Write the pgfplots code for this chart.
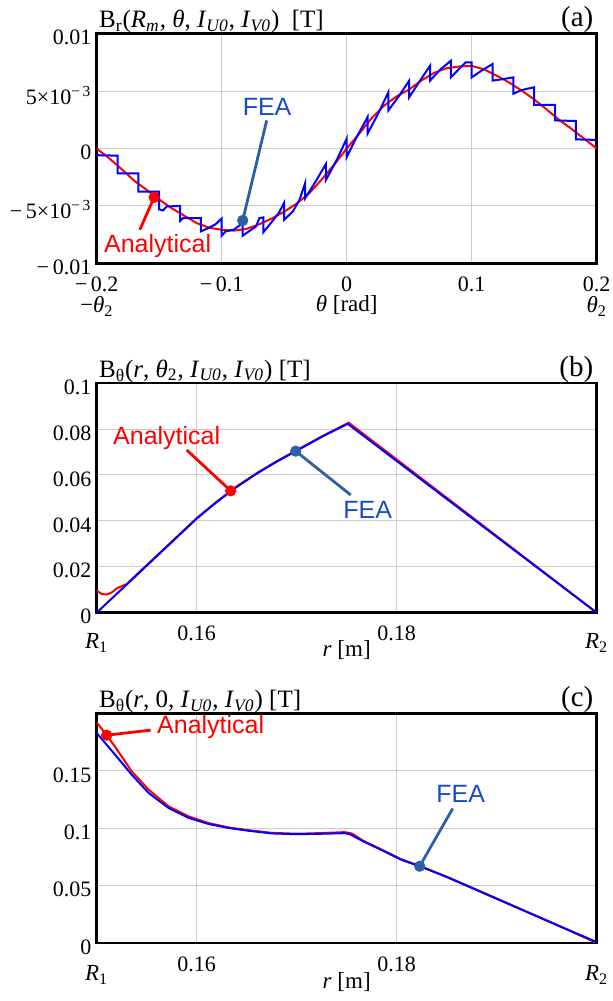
\documentclass[border=0pt]{standalone}
\usepackage{fontspec}
\setmainfont{Liberation Serif}
\newfontfamily\arial{Liberation Sans}
\usepackage{pgfplots}
\pgfplotsset{compat=1.18}

\definecolor{feablue}{RGB}{0,0,255}
\definecolor{anared}{RGB}{255,0,0}
\definecolor{fealabel}{RGB}{25,75,200}
\definecolor{fealead}{RGB}{45,95,165}

\pgfplotsset{
  mcad/.style={
    scale only axis, width=250pt, height=114.75pt, anchor=south west,
    clip mode=individual,
    grid=major, grid style={gray!40, line width=0.5pt},
    axis line style={line width=1.3pt},
    major tick length=0pt,
    tick label style={font=\fontsize{11}{13}\selectfont},
    xticklabel style={anchor=center, yshift=-10.5pt},
    yticklabel style={anchor=east, inner sep=0pt, xshift=-2.5pt, yshift=-2pt},
  },
  ana/.style={anared, line width=1pt},
  fea/.style={feablue, line width=1pt},
}
\newcommand\ttl[1]{\node[anchor=base west, inner sep=0pt, font=\fontsize{12.5}{14}\selectfont, xshift=1pt, yshift=3pt] at (rel axis cs:0,1) {#1};}
\newcommand\ptag[1]{\node[anchor=base east, inner sep=0pt, font=\fontsize{14.5}{16}\selectfont, xshift=-1.5pt, yshift=3.5pt] at (rel axis cs:1,1) {#1};}
\newcommand\lbl[3]{\node[font=\fontsize{11.5}{13}\selectfont, yshift=#2] at (rel axis cs:#1,0) {#3};}

\begin{document}
\begin{tikzpicture}
\path[use as bounding box] (0,0) rectangle (306.5pt,500.5pt);

% ---------------- (a) radial flux density, values in 1e-3 T
\begin{axis}[mcad, at={(48.35pt,368.85pt)},
  xmin=-0.2, xmax=0.2, ymin=-10, ymax=10,
  xtick={-0.2,-0.1,0,0.1,0.2},
  xticklabels={−\,0.2, −\,0.1, 0, 0.1, 0.2},
  ytick={-10,-5,0,5,10},
  yticklabels={−\,0.01, −\,5×10\textsuperscript{−\,3}, 0, 5×10\textsuperscript{−\,3}, 0.01},
]
\addplot[ana] coordinates {
 (-0.2,0) (-0.19,-0.85) (-0.18,-1.8) (-0.17,-2.8) (-0.16,-3.6) (-0.15,-4.45)
 (-0.14,-5.2) (-0.13,-5.85) (-0.12,-6.5) (-0.11,-6.9) (-0.10,-7.08) (-0.09,-7.15)
 (-0.08,-7.0) (-0.07,-6.6) (-0.06,-6.1) (-0.05,-5.5) (-0.04,-4.8) (-0.03,-3.9)
 (-0.02,-2.7) (-0.01,-1.4) (0,0) (0.01,1.3) (0.02,2.65) (0.03,3.75) (0.04,4.55)
 (0.05,5.15) (0.06,5.95) (0.07,6.6) (0.08,7.0) (0.09,7.15) (0.10,7.2) (0.11,6.9)
 (0.12,6.35) (0.13,5.75) (0.14,5.05) (0.15,4.28) (0.16,3.4) (0.17,2.5) (0.18,1.7)
 (0.19,0.85) (0.2,0)
};
\addplot[fea] coordinates {
 (-0.2,-0.58) (-0.1833,-0.62) (-0.1833,-2.17) (-0.1667,-2.17) (-0.1667,-3.76)
 (-0.15,-3.76) (-0.15,-5.3) (-0.147,-5.4) (-0.144,-5.05) (-0.1333,-5.0)
 (-0.1333,-6.3) (-0.131,-6.07) (-0.1167,-6.07) (-0.1167,-7.22) (-0.11,-6.9)
 (-0.105,-6.6) (-0.1,-6.1) (-0.1,-7.6) (-0.0968,-7.22) (-0.0905,-7.08)
 (-0.0851,-6.65) (-0.0833,-6.27) (-0.0833,-7.6) (-0.0783,-7.22) (-0.0725,-6.79)
 (-0.0699,-6.07) (-0.0667,-6.0) (-0.0667,-7.3) (-0.0597,-6.36) (-0.0544,-5.63)
 (-0.05,-4.71) (-0.05,-6.2) (-0.0431,-5.49) (-0.0378,-4.48) (-0.0333,-3.03)
 (-0.0333,-4.33) (-0.025,-2.9) (-0.0167,-1.36) (-0.0167,-2.75) (-0.008,-1.0)
 (0,0.87) (0,-0.73) (0.008,1.0) (0.0167,2.74) (0.0167,1.30) (0.025,3.0)
 (0.0333,4.9) (0.0333,3.32) (0.042,4.6) (0.05,5.92) (0.05,4.47) (0.058,5.8)
 (0.0667,7.22) (0.0667,5.92) (0.075,6.9) (0.0833,7.65) (0.0833,6.2) (0.095,7.5)
 (0.1,7.5) (0.1,6.2) (0.108,6.8) (0.1167,7.37) (0.1167,5.92) (0.122,6.0)
 (0.1333,6.2) (0.1333,4.77) (0.14,5.1) (0.15,5.34) (0.15,3.81) (0.1667,3.81)
 (0.1667,2.45) (0.1833,2.4) (0.1833,0.8) (0.2,0.75)
};
% annotations
\addplot[anared, line width=1.4pt] coordinates {(-0.1655,-7.08) (-0.154,-4.25)};
\addplot[anared, only marks, mark=*, mark size=2.6pt] coordinates {(-0.154,-4.25)};
\addplot[fealead, line width=1.4pt] coordinates {(-0.064,2.45) (-0.0832,-6.27)};
\addplot[fealead, only marks, mark=*, mark size=2.6pt] coordinates {(-0.0832,-6.27)};
\node[anared, font=\arial\fontsize{12.5}{14}\selectfont] at (axis cs:-0.1513,-8.47) {Analytical};
\node[fealabel, font=\arial\fontsize{12.5}{14}\selectfont] at (axis cs:-0.0637,3.6) {FEA};
\ttl{B\textsubscript{r}(\textit{R}\textsubscript{\textit{m}}, \textit{θ}, \textit{I}\textsubscript{\textit{U0}}, \textit{I}\textsubscript{\textit{V0}})\enspace[T]}
\ptag{(a)}
\lbl{0}{-21.5pt}{−\textit{θ}\textsubscript{2}}
\lbl{1}{-21.5pt}{\textit{θ}\textsubscript{2}}
\lbl{0.5}{-21pt}{\textit{θ} [rad]}
\end{axis}

% ---------------- (b)
\begin{axis}[mcad, at={(48.35pt,194.15pt)},
  xmin=0.15, xmax=0.2, ymin=0, ymax=0.1,
  xtick={0.16,0.18}, xticklabels={0.16,0.18},
  ytick={0,0.02,0.04,0.06,0.08,0.1},
  yticklabels={0,0.02,0.04,0.06,0.08,0.1},
]
\addplot[ana] coordinates {
 (0.15,0.0096) (0.1505,0.0082) (0.151,0.0079) (0.1515,0.0088) (0.152,0.0106)
 (0.153,0.0125) (0.155,0.0207) (0.158,0.033) (0.16,0.0412) (0.162,0.0484)
 (0.164,0.055) (0.166,0.0608) (0.168,0.066) (0.17,0.0708) (0.1725,0.0768)
 (0.1752,0.0828) (0.2,0.0)
};
\addplot[fea] coordinates {
 (0.15,0) (0.155,0.0205) (0.158,0.0328) (0.16,0.041) (0.162,0.0482)
 (0.164,0.0548) (0.166,0.0606) (0.168,0.0658) (0.17,0.0706) (0.1725,0.0766)
 (0.1751,0.0823) (0.2,0)
};
\addplot[anared, line width=1.4pt] coordinates {(0.159,0.0709) (0.1634,0.0531)};
\addplot[anared, only marks, mark=*, mark size=2.6pt] coordinates {(0.1634,0.0531)};
\addplot[fealead, line width=1.4pt] coordinates {(0.1754,0.0513) (0.1699,0.0704)};
\addplot[fealead, only marks, mark=*, mark size=2.6pt] coordinates {(0.1699,0.0704)};
\node[anared, font=\arial\fontsize{12.5}{14}\selectfont] at (axis cs:0.157,0.076) {Analytical};
\node[fealabel, font=\arial\fontsize{12.5}{14}\selectfont] at (axis cs:0.1771,0.0448) {FEA};
\ttl{B\textsubscript{θ}(\textit{r}, \textit{θ}\textsubscript{2}, \textit{I}\textsubscript{\textit{U0}}, \textit{I}\textsubscript{\textit{V0}}) [T]}
\ptag{(b)}
\lbl{0}{-15pt}{\textit{R}\textsubscript{1}}
\lbl{1}{-15pt}{\textit{R}\textsubscript{2}}
\lbl{0.5}{-18.5pt}{\textit{r} [m]}
\end{axis}

% ---------------- (c)
\begin{axis}[mcad, at={(48.35pt,29pt)},
  xmin=0.15, xmax=0.2, ymin=0, ymax=0.2,
  xtick={0.16,0.18}, xticklabels={0.16,0.18},
  ytick={0,0.05,0.1,0.15},
  yticklabels={0,0.05,0.1,0.15},
]
\addplot[ana] coordinates {
 (0.15,0.1923) (0.151,0.181) (0.1518,0.1715) (0.1535,0.1496) (0.1552,0.1336)
 (0.1572,0.119) (0.1592,0.1103) (0.1612,0.1045) (0.1632,0.1007) (0.165,0.0985)
 (0.1675,0.096) (0.17,0.0952) (0.1725,0.0958) (0.1748,0.0966) (0.1755,0.0955)
 (0.1767,0.0889) (0.1783,0.0822) (0.1805,0.0728) (0.1823,0.0672) (0.185,0.0578)
 (0.19,0.0388) (0.195,0.0197) (0.2,0)
};
\addplot[fea] coordinates {
 (0.15,0.183) (0.1518,0.1645) (0.1535,0.1467) (0.1552,0.1307) (0.1572,0.1176)
 (0.1592,0.109) (0.1612,0.1037) (0.1632,0.1002) (0.165,0.098) (0.1675,0.0955)
 (0.17,0.0948) (0.1725,0.0952) (0.1748,0.0957) (0.1753,0.0949) (0.1767,0.0884)
 (0.1783,0.0818) (0.1805,0.0724) (0.1823,0.0669) (0.185,0.0575) (0.19,0.0385)
 (0.195,0.0195) (0.2,0.0008)
};
\addplot[anared, line width=1.4pt] coordinates {(0.1554,0.1855) (0.151,0.1811)};
\addplot[anared, only marks, mark=*, mark size=2.6pt] coordinates {(0.151,0.1811)};
\addplot[fealead, line width=1.4pt] coordinates {(0.1856,0.1172) (0.1823,0.0669)};
\addplot[fealead, only marks, mark=*, mark size=2.6pt] coordinates {(0.1823,0.0669)};
\node[anared, font=\arial\fontsize{12.5}{14}\selectfont] at (axis cs:0.1614,0.1884) {Analytical};
\node[fealabel, font=\arial\fontsize{12.5}{14}\selectfont] at (axis cs:0.1864,0.1302) {FEA};
\ttl{B\textsubscript{θ}(\textit{r}, 0, \textit{I}\textsubscript{\textit{U0}}, \textit{I}\textsubscript{\textit{V0}}) [T]}
\ptag{(c)}
\lbl{0}{-16pt}{\textit{R}\textsubscript{1}}
\lbl{1}{-16pt}{\textit{R}\textsubscript{2}}
\lbl{0.5}{-19.5pt}{\textit{r} [m]}
\end{axis}
\end{tikzpicture}
\end{document}
